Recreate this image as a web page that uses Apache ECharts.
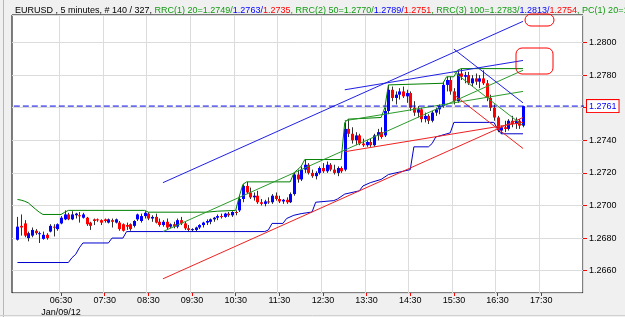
<!DOCTYPE html>
<html>
<head>
<meta charset="utf-8">
<script src="https://cdn.jsdelivr.net/npm/echarts@6/dist/echarts.min.js"></script>
<style>
html,body{margin:0;padding:0;background:#f0f0f0}
#main{width:625px;height:317px}
</style>
</head>
<body>
<div id="main"></div>
<script>
var symbolName = 'EURUSD';
var barMinutes = 5;
var totalBars = 327;
var dateLabel = 'Jan/09/12';
var tickLabels = ['06:30','07:30','08:30','09:30','10:30','11:30','12:30','13:30','14:30','15:30','16:30','17:30'];

// open, high, low, close
var ohlc = [
  [1.2679,1.2693,1.26785,1.2687],[1.26875,1.26945,1.26815,1.26865],[1.2689,1.2691,1.26805,1.26815],[1.2680,1.2684,1.2678,1.2683],
  [1.26815,1.26865,1.26805,1.2685],[1.26845,1.26855,1.2682,1.2683],[1.26825,1.2684,1.2677,1.2683],[1.26795,1.2684,1.2679,1.2682],
  [1.2682,1.2683,1.2679,1.2680],[1.2684,1.26885,1.26835,1.26875],[1.2687,1.26885,1.2681,1.26865],[1.26855,1.2689,1.26845,1.26885],
  [1.2689,1.26935,1.26885,1.26925],[1.26915,1.2697,1.2691,1.26945],[1.26945,1.26955,1.2691,1.26915],[1.26915,1.26965,1.2691,1.26945],
  [1.2694,1.26955,1.2692,1.2695],[1.2694,1.2696,1.26895,1.26935],[1.26925,1.26955,1.2692,1.26945],[1.26925,1.2693,1.26875,1.26885],
  [1.26895,1.2690,1.2685,1.26875],[1.26915,1.2692,1.2688,1.26905],[1.26915,1.2692,1.2690,1.2691],[1.2691,1.26915,1.2688,1.26895],
  [1.26915,1.2692,1.26895,1.26905],[1.26895,1.2692,1.2689,1.26915],[1.2691,1.2692,1.26865,1.2690],[1.26895,1.2692,1.2689,1.26915],
  [1.26895,1.26905,1.26845,1.26855],[1.26885,1.2689,1.2684,1.26845],[1.2688,1.26895,1.2685,1.2687],[1.26885,1.2689,1.26845,1.26855],
  [1.26875,1.2691,1.26865,1.26905],[1.26915,1.2695,1.26905,1.26945],[1.26905,1.2695,1.26895,1.26935],[1.26935,1.26965,1.2692,1.26955],
  [1.2695,1.26958,1.2691,1.2692],[1.2692,1.2694,1.2690,1.2693],[1.2693,1.2695,1.2689,1.26895],[1.2690,1.2692,1.2687,1.2688],
  [1.2688,1.2691,1.2687,1.2690],[1.2690,1.2692,1.2685,1.26865],[1.2687,1.2689,1.2686,1.26885],[1.26885,1.2690,1.2686,1.2687],
  [1.2687,1.2692,1.2686,1.2691],[1.2691,1.2693,1.2688,1.2689],[1.2689,1.2690,1.2685,1.2686],[1.2686,1.2688,1.2684,1.2685],
  [1.2685,1.2686,1.2684,1.26855],[1.2685,1.2687,1.2684,1.26865],[1.26865,1.26885,1.26855,1.2688],[1.2688,1.2690,1.26865,1.26895],
  [1.26895,1.26915,1.2688,1.26905],[1.2690,1.2692,1.26885,1.26915],[1.26915,1.2693,1.2690,1.26925],[1.26925,1.26945,1.2691,1.26935],
  [1.26935,1.2695,1.2692,1.2693],[1.2693,1.26955,1.26925,1.2695],[1.2695,1.2696,1.2693,1.2694],[1.2694,1.26965,1.2693,1.2696],
  [1.2696,1.2697,1.2694,1.26955],[1.2697,1.27057,1.2696,1.2704],[1.2704,1.2713,1.2702,1.2712],[1.2712,1.27145,1.2707,1.2708],
  [1.2708,1.2711,1.2704,1.2705],[1.2705,1.2708,1.2703,1.2706],[1.2706,1.2709,1.2701,1.2702],[1.2702,1.2704,1.2700,1.2701],
  [1.2701,1.27035,1.26995,1.27025],[1.27025,1.2705,1.2701,1.2702],[1.2702,1.2707,1.2701,1.2706],[1.2706,1.2708,1.2703,1.2704],
  [1.2704,1.2706,1.27015,1.27025],[1.27025,1.2704,1.2701,1.27035],[1.27035,1.2705,1.2701,1.2702],[1.2702,1.2708,1.27015,1.2707],
  [1.2707,1.2720,1.2706,1.2719],[1.2719,1.2722,1.2714,1.2716],[1.2716,1.2724,1.2715,1.2722],[1.2722,1.2728,1.2720,1.2725],
  [1.2725,1.2726,1.2719,1.2720],[1.2720,1.2722,1.2717,1.2718],[1.2718,1.2721,1.2716,1.2720],[1.2720,1.2724,1.2719,1.2723],
  [1.2723,1.2726,1.2720,1.2721],[1.2721,1.2727,1.2720,1.2725],[1.2725,1.2726,1.2721,1.2722],[1.2722,1.2725,1.2719,1.2720],
  [1.2720,1.2724,1.2718,1.2723],[1.2723,1.2724,1.2720,1.2721],[1.2722,1.2751,1.2721,1.2747],[1.2747,1.2753,1.2742,1.2744],
  [1.2744,1.2748,1.2738,1.2740],[1.2740,1.2745,1.2737,1.2743],[1.2743,1.2744,1.2737,1.2738],[1.2738,1.2741,1.2736,1.2737],
  [1.2737,1.2740,1.2736,1.2739],[1.2739,1.2741,1.2736,1.2737],[1.2737,1.2744,1.2736,1.2743],[1.2743,1.2747,1.2740,1.2745],
  [1.2745,1.2748,1.2741,1.2742],[1.2743,1.2760,1.2742,1.2758],[1.2758,1.2774,1.2756,1.2771],[1.2771,1.2773,1.2764,1.2766],
  [1.2766,1.2770,1.2762,1.2768],[1.2768,1.2772,1.2765,1.2770],[1.2770,1.2773,1.2766,1.2767],[1.2767,1.2771,1.2763,1.2769],
  [1.2769,1.2770,1.2758,1.2760],[1.2760,1.2764,1.2755,1.2757],[1.2757,1.2761,1.2754,1.2759],[1.2759,1.2760,1.2751,1.2753],
  [1.2753,1.2757,1.2751,1.2755],[1.2755,1.2756,1.2750,1.2752],[1.2752,1.2758,1.2751,1.2757],[1.2757,1.2760,1.2755,1.2759],
  [1.2759,1.2762,1.2756,1.2761],[1.2761,1.2776,1.2760,1.2774],[1.2774,1.2779,1.2770,1.2777],[1.2777,1.2779,1.2768,1.2770],
  [1.2770,1.2772,1.2762,1.2764],[1.2764,1.2783,1.2763,1.2781],[1.2781,1.2784,1.2777,1.2779],[1.2779,1.2782,1.2775,1.2780],
  [1.2780,1.2782,1.2774,1.2775],[1.2775,1.2780,1.2773,1.2778],[1.2778,1.2781,1.2774,1.2776],[1.2776,1.2780,1.2772,1.2778],
  [1.2778,1.2783,1.2774,1.2775],[1.2775,1.2777,1.2764,1.2766],[1.2766,1.2768,1.2758,1.2760],[1.2760,1.2762,1.2752,1.2754],
  [1.2754,1.2755,1.2745,1.2746],[1.2746,1.2749,1.2744,1.2748],[1.2748,1.2752,1.2745,1.2747],[1.2747,1.2753,1.2746,1.2752],
  [1.2752,1.2755,1.2748,1.2750],[1.2750,1.2754,1.2747,1.2752],[1.2752,1.2753,1.2747,1.2749],[1.2749,1.2761,1.2748,1.2761]
];

// price channel (20 bars), [bar, price] break points
var pcUpper = [[0,1.27037],[1,1.27033],[2,1.27026],[3,1.27016],[4,1.26996],[5,1.26977],[6,1.26959],[7,1.26945],[12,1.26945],
  [13,1.26959],[14,1.2697],[35,1.2697],[36,1.26959],[52,1.26959],[55,1.26965],[60,1.2697],[61,1.27057],[62,1.2713],[63,1.27145],
  [75,1.27145],[76,1.2720],[77,1.2722],[78,1.2724],[79,1.27282],[89,1.27282],[90,1.2751],[91,1.2753],[100,1.2754],[101,1.2760],
  [102,1.2774],[117,1.2775],[118,1.2779],[120,1.2779],[121,1.2783],[122,1.2784],[139,1.2784]];
var pcLower = [[0,1.2665],[14,1.2665],[15,1.2668],[16,1.2670],[17,1.2674],[18,1.2677],[25,1.2677],[26,1.2680],[29,1.2680],
  [30,1.2684],[68,1.2684],[69,1.2685],[70,1.2689],[73,1.2689],[74,1.2692],[76,1.2694],[78,1.2695],[81,1.2696],[82,1.2702],
  [87,1.2703],[88,1.2704],[90,1.2707],[94,1.2709],[95,1.2712],[97,1.2714],[100,1.2716],[102,1.2719],[108,1.2722],[109,1.2736],
  [113,1.2736],[114,1.2738],[115,1.2742],[119,1.27446],[120,1.2751],[131,1.2751],[132,1.2747],[133,1.2744],[139,1.2744]];

// regression channels: first/last bar, middle / upper / lower at those bars
var rrc1Bars = [120, 139], rrc1Mid = [1.2782, 1.2749], rrc1Upper = [1.2796, 1.2763], rrc1Lower = [1.2768, 1.2735];
var rrc2Bars = [90, 139],  rrc2Mid = [1.2752, 1.2770], rrc2Upper = [1.2771, 1.2789], rrc2Lower = [1.2733, 1.2751];
var rrc3Bars = [40, 139],  rrc3Mid = [1.2684, 1.2783], rrc3Upper = [1.2714, 1.2813], rrc3Lower = [1.2655, 1.2754];

var yMin = 1.26463, yMax = 1.28169;

function pad(n){ return (n < 10 ? '0' : '') + n; }
// 5 minute slots, one empty slot before the first bar and some after the last
var slots = [];
var startMin = 5 * 60 + 25;
for (var i = 0; i < 157; i++) {
    var m = startMin + i * barMinutes;
    slots.push(pad(Math.floor(m / 60)) + ':' + pad(m % 60));
}
function showTick(idx, val){ return tickLabels.indexOf(val) >= 0; }
function toSlot(pts){ return pts.map(function(p){ return [p[0] + 1, p[1]]; }); }
function segment(bars, vals){ return [[bars[0] + 1, vals[0]], [bars[1] + 1, vals[1]]]; }

var candleData = ohlc.map(function(d, i){ return [i + 1, d[0], d[1], d[2], d[3]]; });
var lastPrice = ohlc[ohlc.length - 1][3];
var f4 = function(v){ return v.toFixed(4); };

var font = 'Liberation Sans, Arial, sans-serif';
var blue = '#1f1fe6', green = '#2a9a2a', red = '#f02020';

var titleText =
    '{k|' + symbolName + ' , ' + barMinutes + ' minutes, # ' + ohlc.length + ' / ' + totalBars + ', }' +
    '{g|RRC(1) 20=' + f4(rrc1Mid[1]) + '/}{b|' + f4(rrc1Upper[1]) + '/}{r|' + f4(rrc1Lower[1]) + '}' +
    '{g|, RRC(2) 50=' + f4(rrc2Mid[1]) + '/}{b|' + f4(rrc2Upper[1]) + '/}{r|' + f4(rrc2Lower[1]) + '}' +
    '{g|, RRC(3) 100=' + f4(rrc3Mid[1]) + '/}{b|' + f4(rrc3Upper[1]) + '/}{r|' + f4(rrc3Lower[1]) + '}' +
    '{g|, PC(1) 20=' + f4(pcUpper[pcUpper.length - 1][1]) + '/}{b|' + f4(pcLower[pcLower.length - 1][1]) + '}';

var chart = echarts.init(document.getElementById('main'));

function lineSeries(data, color){
    return {
        type: 'line', data: data, symbol: 'none', showSymbol: false,
        lineStyle: {color: color, width: 1}, silent: true, z: 3
    };
}

var series = [
    {
        type: 'custom',
        data: candleData,
        encode: {x: 0, y: [1, 2, 3, 4]},
        z: 2,
        renderItem: function(params, api){
            var x = api.value(0), o = api.value(1), h = api.value(2), l = api.value(3), c = api.value(4);
            var po = api.coord([x, o]), pc = api.coord([x, c]), ph = api.coord([x, h]), pl = api.coord([x, l]);
            var cx = Math.round(po[0]) + 0.5;
            var top = Math.min(po[1], pc[1]);
            var ht = Math.max(Math.abs(po[1] - pc[1]), 1);
            return {
                type: 'group',
                children: [
                    {type: 'line', shape: {x1: cx, y1: ph[1], x2: cx, y2: pl[1]}, style: {stroke: '#303030', lineWidth: 1}},
                    {type: 'rect', shape: {x: cx - 1.5, y: top, width: 3, height: ht}, style: {fill: c >= o ? '#0000ff' : '#ff0000'}}
                ]
            };
        }
    },
    lineSeries(toSlot(pcUpper), '#008000'),
    lineSeries(toSlot(pcLower), '#0000cc'),
    lineSeries(segment(rrc3Bars, rrc3Upper), blue),
    lineSeries(segment(rrc3Bars, rrc3Mid), green),
    lineSeries(segment(rrc3Bars, rrc3Lower), red),
    lineSeries(segment(rrc2Bars, rrc2Upper), blue),
    lineSeries(segment(rrc2Bars, rrc2Mid), green),
    lineSeries(segment(rrc2Bars, rrc2Lower), red),
    lineSeries(segment(rrc1Bars, rrc1Upper), blue),
    lineSeries(segment(rrc1Bars, rrc1Mid), green),
    lineSeries(segment(rrc1Bars, rrc1Lower), red)
];

// last price line across the whole plot, value box on the price axis
series.push({
    type: 'line',
    data: [[-0.5, lastPrice], [slots.length - 0.5, lastPrice]],
    symbol: 'none', silent: true, clip: false, z: 4,
    lineStyle: {color: '#0000e0', type: [6, 3], width: 1},
    endLabel: {
        show: true, distance: 3, formatter: f4(lastPrice),
        color: '#0000ff', fontSize: 9, fontFamily: font,
        backgroundColor: '#fff', borderColor: '#ff0000', borderWidth: 1, padding: [2, 2, 1, 2]
    }
});

chart.setOption({
    animation: false,
    backgroundColor: '#f0f0f0',
    title: {
        left: 10, top: 1,
        text: titleText,
        textStyle: {
            fontSize: 9, fontFamily: font, fontWeight: 'normal',
            rich: {
                k: {color: '#000', fontSize: 9, fontFamily: font},
                g: {color: '#129a12', fontSize: 9, fontFamily: font},
                b: {color: '#0000ff', fontSize: 9, fontFamily: font},
                r: {color: '#ff0000', fontSize: 9, fontFamily: font}
            }
        }
    },
    grid: {
        left: 12, right: 42, top: 15, bottom: 24,
        outerBoundsMode: 'none',
        show: true, backgroundColor: '#fff', borderColor: '#000', borderWidth: 1
    },
    xAxis: {
        type: 'category',
        data: slots,
        boundaryGap: true,
        axisLine: {show: false},
        axisTick: {show: true, interval: showTick, alignWithLabel: true, length: 3, lineStyle: {color: '#ff0000'}},
        axisLabel: {
            interval: showTick, fontSize: 9, color: '#000', fontFamily: font, margin: 2, lineHeight: 12,
            formatter: function(v){ return v === tickLabels[0] ? v + '\n' + dateLabel : v; }
        },
        splitLine: {show: true, interval: showTick, lineStyle: {color: '#dcdcdc', width: 1}}
    },
    yAxis: {
        type: 'value',
        position: 'right',
        min: yMin, max: yMax,
        splitNumber: 8,
        axisLine: {show: false},
        axisTick: {show: true, length: 4, lineStyle: {color: '#ff0000'}},
        axisLabel: {
            fontSize: 9, color: '#000', fontFamily: font, margin: 6,
            showMinLabel: false, showMaxLabel: false,
            formatter: function(v){ return v.toFixed(4); }
        },
        splitLine: {show: true, lineStyle: {color: '#dcdcdc', width: 1}}
    },
    graphic: [
        {type: 'line', shape: {x1: 3.5, y1: 0, x2: 3.5, y2: 317}, style: {stroke: '#b8b8b8', lineWidth: 1}},
        {type: 'line', shape: {x1: 0, y1: 315.5, x2: 625, y2: 315.5}, style: {stroke: '#d0d0d0', lineWidth: 1}},
        {type: 'rect', shape: {x: 525, y: 14, width: 29, height: 12, r: 6}, style: {fill: 'rgba(0,0,0,0)', stroke: '#ff0000', lineWidth: 1}, z: 100},
        {type: 'rect', shape: {x: 516, y: 48, width: 37, height: 26, r: 6}, style: {fill: 'rgba(0,0,0,0)', stroke: '#ff0000', lineWidth: 1}, z: 100}
    ],
    series: series
});
</script>
</body>
</html>
